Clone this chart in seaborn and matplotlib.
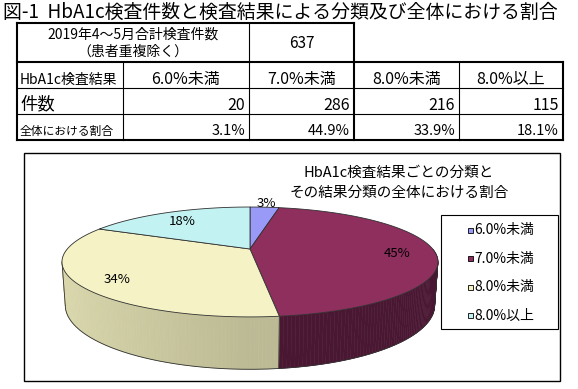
import numpy as np
import matplotlib
matplotlib.use("Agg")
import matplotlib.pyplot as plt
import seaborn as sns
from matplotlib.patches import Rectangle

# values
categories = ["6.0%未満", "7.0%未満", "8.0%未満", "8.0%以上"]
counts = [20, 286, 216, 115]
total_count = 637
shares = [3.1, 44.9, 33.9, 18.1]
row_labels = ["HbA1c検査結果", "件数", "全体における割合"]
total_label = ["2019年4～5月合計検査件数", "（患者重複除く）"]
fig_title = "図-1  HbA1c検査件数と検査結果による分類及び全体における割合"
pie_title = ["HbA1c検査結果ごとの分類と", "その結果分類の全体における割合"]

# styles
top_colors = sns.color_palette(["#9999F8", "#8E2F5E", "#F5F3C5", "#C2F2F2"])
side_colors = sns.color_palette(["#5C5CA8", "#4A1733", "#BCBA94", "#8FB8B8"])
EDGE = "#303030"

# layout (pixels)
COL_X = [17, 123, 249, 354, 459, 563]
ROW_Y = [23, 62, 88, 114, 140]
BOX = (24, 153, 560, 381)
LEGEND_BOX = (441, 215, 558, 329)

# pie camera
CX, CY = 250, 249
ELEV = np.radians(16.5)
DIST = 4.065
FOCAL = 742.7
THICK = 0.24


def project(theta, rho=1.0, z=0.0):
    t = np.radians(theta)
    px, py = rho * np.cos(t), rho * np.sin(t)
    depth = DIST + py * np.cos(ELEV) - z * np.sin(ELEV)
    sx = FOCAL * px / depth
    sy = FOCAL * (py * np.sin(ELEV) + z * np.cos(ELEV)) / depth
    return CX + sx, CY - sy


def shade(color, theta):
    f = 1 + 0.17 * max(0.0, -np.cos(np.radians(theta)))
    return tuple(min(1.0, c * f) for c in color)


def draw_table(ax):
    outer, inner = 1.5, 0.8
    def hline(x0, x1, y, lw):
        ax.plot([x0, x1], [y, y], color="black", lw=lw, solid_capstyle="projecting")
    def vline(x, y0, y1, lw):
        ax.plot([x, x], [y0, y1], color="black", lw=lw, solid_capstyle="projecting")

    hline(COL_X[0], COL_X[3], ROW_Y[0], outer)
    hline(COL_X[0], COL_X[5], ROW_Y[1], outer)
    hline(COL_X[0], COL_X[5], ROW_Y[2], inner)
    hline(COL_X[0], COL_X[5], ROW_Y[3], inner)
    hline(COL_X[0], COL_X[5], ROW_Y[4], outer)
    vline(COL_X[0], ROW_Y[0], ROW_Y[4], outer)
    vline(COL_X[2], ROW_Y[0], ROW_Y[4], inner)
    vline(COL_X[3], ROW_Y[0], ROW_Y[4], outer)
    vline(COL_X[1], ROW_Y[1], ROW_Y[4], inner)
    vline(COL_X[4], ROW_Y[1], ROW_Y[4], inner)
    vline(COL_X[5], ROW_Y[1], ROW_Y[4], outer)

    mid = (COL_X[0] + COL_X[2]) / 2
    ax.text(mid, 35, total_label[0], ha="center", va="center", fontsize=10)
    ax.text(mid, 52, total_label[1], ha="center", va="center", fontsize=10)
    ax.text((COL_X[2] + COL_X[3]) / 2, 43, str(total_count), ha="center", va="center", fontsize=11)

    ax.text(COL_X[0] + 3, 80, row_labels[0], ha="left", va="center", fontsize=10)
    ax.text(COL_X[0] + 3, 104, row_labels[1], ha="left", va="center", fontsize=12.5)
    ax.text(COL_X[0] + 3, 131, row_labels[2], ha="left", va="center", fontsize=8.5)
    for i, (cat, n, s) in enumerate(zip(categories, counts, shares)):
        x0, x1 = COL_X[i + 1], COL_X[i + 2]
        ax.text((x0 + x1) / 2, 79, cat, ha="center", va="center", fontsize=11.5)
        ax.text(x1 - 4, 105, f"{n}", ha="right", va="center", fontsize=11.5)
        ax.text(x1 - 4, 131, f"{s:.1f}%", ha="right", va="center", fontsize=10.5)


def draw_pie(ax):
    fracs = np.array(counts) / np.sum(counts)
    bounds = 90 - 360 * np.concatenate([[0], np.cumsum(fracs)])

    # side walls, back to front
    quads = []
    for i in range(len(counts)):
        a0, a1 = bounds[i], bounds[i + 1]
        lo, hi = max(a1, -180), min(a0, 0)
        if lo >= hi:
            continue
        ts = np.linspace(hi, lo, max(2, int((hi - lo) / 1.0) + 1))
        for t0, t1 in zip(ts[:-1], ts[1:]):
            quads.append((np.sin(np.radians((t0 + t1) / 2)), i, t0, t1))
    quads.sort(key=lambda q: -q[0])
    for _, i, t0, t1 in quads:
        xa, ya = project(t0)
        xb, yb = project(t1)
        xc, yc = project(t1, z=-THICK)
        xd, yd = project(t0, z=-THICK)
        c = shade(side_colors[i], (t0 + t1) / 2)
        ax.fill([xa, xb, xc, xd], [ya, yb, yc, yd], color=c, ec=c, lw=0.4, zorder=2)

    s_ang = np.degrees(np.arcsin(np.cos(ELEV) / DIST))
    ts = np.linspace(-180 + s_ang, -s_ang, 200)
    bx, by = project(ts, z=-THICK)
    ax.plot(bx, by, color=EDGE, lw=0.6, zorder=3)
    edge_angles = [-180 + s_ang, -s_ang] + [b for b in bounds if -180 + s_ang < b < -s_ang]
    for t in edge_angles:
        x0, y0 = project(t)
        x1, y1 = project(t, z=-THICK)
        ax.plot([x0, x1], [y0, y1], color=EDGE, lw=0.6, zorder=3)

    # top faces
    for i in range(len(counts)):
        ts = np.linspace(bounds[i], bounds[i + 1], 120)
        xs, ys = project(ts)
        xs = np.concatenate([[CX], xs])
        ys = np.concatenate([[CY], ys])
        ax.fill(xs, ys, color=top_colors[i], ec=EDGE, lw=0.6, zorder=4)

    # percentage labels
    for i, s in enumerate(shares):
        mid = (bounds[i] + bounds[i + 1]) / 2
        if s < 5:
            x, y = project(mid, rho=1.12)
        else:
            x, y = project(mid, rho=0.8)
            y += 3
        ax.text(x, y, f"{round(s)}%", ha="center", va="center", fontsize=9.5, zorder=5)


def draw_legend(ax):
    x0, y0, x1, y1 = LEGEND_BOX
    ax.add_patch(Rectangle((x0, y0), x1 - x0, y1 - y0, fc="white", ec="black", lw=0.8, zorder=5))
    step = (y1 - y0) / len(categories)
    for i, cat in enumerate(categories):
        y = y0 + step * (i + 0.5) + 1
        ax.add_patch(Rectangle((x0 + 26.5, y - 2.5), 5, 5, fc=top_colors[i], ec="black", lw=0.6, zorder=6))
        ax.text(x0 + 33, y, cat, ha="left", va="center", fontsize=10, zorder=6)


sns.set_theme(style="white")
plt.rcParams["font.family"] = ["Noto Sans CJK JP", "DejaVu Sans"]
plt.rcParams["text.color"] = "black"

fig = plt.figure(figsize=(5.78, 3.89), dpi=100)
ax = fig.add_axes([0, 0, 1, 1])
ax.set_xlim(0, 578)
ax.set_ylim(389, 0)
ax.axis("off")

ax.text(3, 12, fig_title, ha="left", va="center", fontsize=13.6)
draw_table(ax)

bx0, by0, bx1, by1 = BOX
ax.add_patch(Rectangle((bx0, by0), bx1 - bx0, by1 - by0, fc="white", ec="black", lw=1.0, zorder=1))
ax.text(399, 173, pie_title[0], ha="center", va="center", fontsize=10.5, zorder=5)
ax.text(399, 193, pie_title[1], ha="center", va="center", fontsize=10.5, zorder=5)
draw_pie(ax)
draw_legend(ax)

fig.savefig("out.png", dpi=100, facecolor="white")
plt.close(fig)
